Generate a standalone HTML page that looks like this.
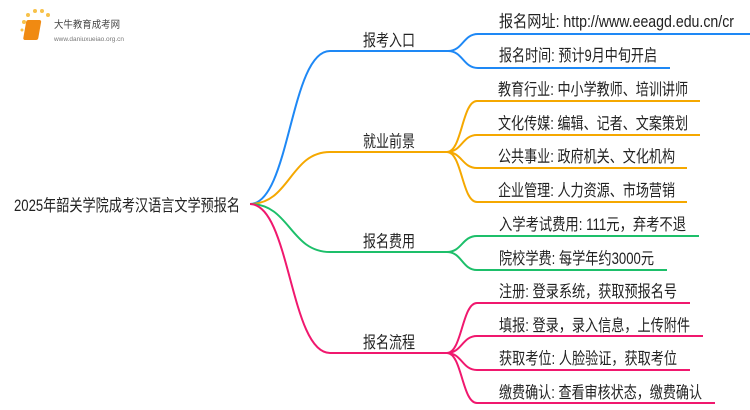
<!DOCTYPE html>
<html><head><meta charset="utf-8"><style>
html,body{margin:0;padding:0;background:#fff;}
svg{display:block;}
text{font-family:"Liberation Sans","Noto Sans CJK SC",sans-serif;font-size:16.5px;fill:#222;}
</style></head><body>
<svg width="750" height="410" viewBox="0 0 750 410" xmlns="http://www.w3.org/2000/svg">
<g>
 <circle cx="24" cy="22" r="2" fill="#f7c24a"/><circle cx="28" cy="15" r="2" fill="#f7c24a"/>
 <circle cx="35" cy="11" r="2" fill="#f7c24a"/><circle cx="42" cy="11" r="2" fill="#f7c24a"/>
 <circle cx="48" cy="15" r="2" fill="#f7c24a"/><circle cx="22" cy="30" r="1.5" fill="#f7c24a"/>
 <rect x="30" y="20" width="15" height="20" rx="2" fill="#f08a12" transform="skewX(-10)"/>
 <text x="54" y="28" style="font-size:10px;fill:#444" textLength="66" lengthAdjust="spacingAndGlyphs">大牛教育成考网</text>
 <text x="54" y="41" style="font-size:6px;fill:#777" textLength="70" lengthAdjust="spacingAndGlyphs">www.daniuxueiao.org.cn</text>
</g>
<text x="14" y="211" textLength="226" lengthAdjust="spacingAndGlyphs">2025年韶关学院成考汉语言文学预报名</text>
<g fill="none" stroke-width="2">
 <path d="M250 204 C290 204 290 51 330 51 L448 51" stroke="#1e88f5"/>
 <path d="M448 51 C463 51 463 34 478 34 L750 34 M448 51 C463 51 463 68 478 68 L670 68" stroke="#1e88f5"/>
 <path d="M250 204 C290 204 290 152 330 152 L447 152" stroke="#f5a800"/>
 <path d="M447 152 C462 152 462 101 477 101 L700 101 M447 152 C462 152 462 135 477 135 L700 135 M447 152 C462 152 462 168 477 168 L687 168 M447 152 C462 152 462 202 477 202 L687 202" stroke="#f5a800"/>
 <path d="M250 204 C290 204 290 252 330 252 L447 252" stroke="#1dbf6a"/>
 <path d="M447 252 C462 252 462 236 477 236 L699 236 M447 252 C462 252 462 270 477 270 L667 270" stroke="#1dbf6a"/>
 <path d="M250 204 C290 204 290 353 330 353 L447 353" stroke="#f0186e"/>
 <path d="M447 353 C462 353 462 303 477 303 L690 303 M447 353 C462 353 462 336 477 336 L703 336 M447 353 C462 353 462 370 477 370 L690 370 M447 353 C462 353 462 403 477 403 L715 403" stroke="#f0186e"/>
</g>
<text x="363" y="46" textLength="52" lengthAdjust="spacingAndGlyphs">报考入口</text>
<text x="363" y="147" textLength="52" lengthAdjust="spacingAndGlyphs">就业前景</text>
<text x="363" y="247" textLength="52" lengthAdjust="spacingAndGlyphs">报名费用</text>
<text x="363" y="348" textLength="52" lengthAdjust="spacingAndGlyphs">报名流程</text>
<text x="499" y="27" textLength="235" lengthAdjust="spacingAndGlyphs">报名网址: http://www.eeagd.edu.cn/cr</text>
<text x="499" y="61" textLength="158" lengthAdjust="spacingAndGlyphs">报名时间: 预计9月中旬开启</text>
<text x="498" y="95" textLength="190" lengthAdjust="spacingAndGlyphs">教育行业: 中小学教师、培训讲师</text>
<text x="498" y="129" textLength="190" lengthAdjust="spacingAndGlyphs">文化传媒: 编辑、记者、文案策划</text>
<text x="498" y="162" textLength="177" lengthAdjust="spacingAndGlyphs">公共事业: 政府机关、文化机构</text>
<text x="498" y="196" textLength="177" lengthAdjust="spacingAndGlyphs">企业管理: 人力资源、市场营销</text>
<text x="499" y="230" textLength="187" lengthAdjust="spacingAndGlyphs">入学考试费用: 111元，弃考不退</text>
<text x="499" y="264" textLength="155" lengthAdjust="spacingAndGlyphs">院校学费: 每学年约3000元</text>
<text x="499" y="297" textLength="178" lengthAdjust="spacingAndGlyphs">注册: 登录系统，获取预报名号</text>
<text x="499" y="331" textLength="191" lengthAdjust="spacingAndGlyphs">填报: 登录，录入信息，上传附件</text>
<text x="499" y="364" textLength="178" lengthAdjust="spacingAndGlyphs">获取考位: 人脸验证，获取考位</text>
<text x="499" y="398" textLength="203" lengthAdjust="spacingAndGlyphs">缴费确认: 查看审核状态，缴费确认</text>
</svg>
</body></html>
